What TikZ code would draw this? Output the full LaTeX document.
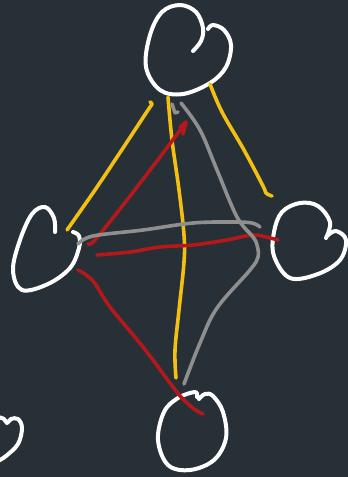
\documentclass[tikz,border=0pt]{standalone}
\begin{document}
\begin{tikzpicture}[x=1pt,y=-1pt,
  heart/.style={draw=white,line width=4pt,line cap=round,line join=round},
  yel/.style={draw=ylw,line width=3.6pt,line cap=round,line join=round},
  rd/.style={draw=rdc,line width=3.6pt,line cap=round,line join=round},
  gr/.style={draw=gry,line width=3.6pt,line cap=round,line join=round}]
\definecolor{bg}{HTML}{272F37}
\definecolor{ylw}{HTML}{F2C012}
\definecolor{rdc}{HTML}{B3181B}
\definecolor{gry}{HTML}{8F8F8F}
\fill[bg] (0,0) rectangle (348,477);
\useasboundingbox (0,0) rectangle (348,477);
% hearts
\draw[heart] plot[smooth,tension=0.6] coordinates {(193,51) (201,41) (203,28) (196,12) (180,5) (162,12) (150,35) (146,67) (160,90) (183,94) (210,83) (226,67) (231,45) (224,30) (213,25) (208,29)};
\draw[heart] plot[smooth,tension=0.6] coordinates {(55,232) (54,218) (45,207) (32,214) (20,240) (13,270) (22,290) (48,284) (70,268) (79,248) (79,236) (73,232)};
\draw[heart] plot[smooth,tension=0.6] coordinates {(326,238) (330,222) (318,206) (300,203) (282,212) (274,232) (274,256) (290,278) (318,274) (340,260) (346,240) (336,231) (327,236)};
\draw[heart] plot[smooth,tension=0.6] coordinates {(197,397) (195,392) (178,398) (164,412) (158,440) (168,465) (190,470) (214,460) (226,438) (223,412) (213,396) (205,394) (199,399)};
\draw[heart] plot[smooth,tension=0.6] coordinates {(-2,417) (4,419) (7,423) (11,419) (18,419) (22,428) (18,444) (6,456) (-2,461)};
% yellow
\draw[yel] plot[smooth,tension=0.5] coordinates {(67,230) (95,190) (125,145) (148,110) (152,104) (150,102)};
\draw[yel] plot[smooth,tension=0.6] coordinates {(168,97) (172,140) (179,190) (184,235) (184,262) (179,310) (175,350) (176,378)};
\draw[yel] plot[smooth,tension=0.6] coordinates {(210,84) (222,112) (244,150) (263,186) (266,193) (272,196)};
% red
\draw[rd] plot[smooth,tension=0.5] coordinates {(88,244) (95,240) (127,200) (160,157) (178,133) (186,122)};
\draw[rd] (183,134) -- (186,122) -- (180,127);
\draw[rd] plot[smooth,tension=0.6] coordinates {(97,255) (130,252) (160,247) (193,245) (227,240) (253,235) (270,238) (278,240)};
\draw[rd] plot[smooth,tension=0.6] coordinates {(78,270) (93,281) (110,307) (143,347) (173,387) (182,398) (194,409) (203,414)};
% gray
\draw[gr] plot[smooth,tension=0.6] coordinates {(78,244) (93,236) (143,230) (193,223) (233,222) (252,223) (260,227)};
\draw[gr] plot[smooth,tension=0.6] coordinates {(181,103) (200,130) (217,170) (237,217) (253,237) (257,245) (258,257) (250,270) (217,308) (200,343) (184,384)};
\draw[gr] (172,104) -- (175,113) -- (178,112);
\end{tikzpicture}
\end{document}
